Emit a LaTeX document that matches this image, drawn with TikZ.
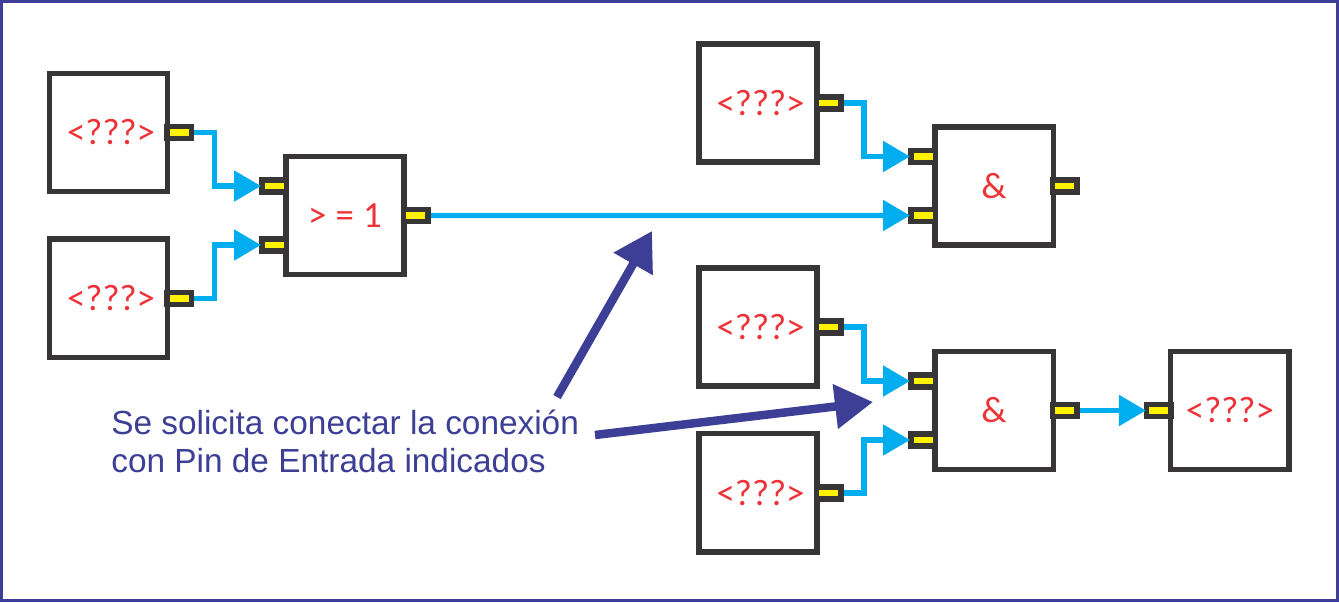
\documentclass[tikz,border=0pt]{standalone}
\usepackage{xcolor}
\usepackage{fontspec}
\setmainfont{Liberation Sans}
\newfontfamily\gatefont{Carlito}
\usepackage{tikz}
\usetikzlibrary{arrows.meta, positioning}
\definecolor{framenavy}{HTML}{3C3F95}
\definecolor{boxdark}{HTML}{373535}
\definecolor{pinyellow}{HTML}{FFF200}
\definecolor{wireblue}{HTML}{00AEEF}
\definecolor{labelred}{HTML}{EE3338}

\begin{document}
\begin{tikzpicture}[x=0.02cm, y=-0.02cm]
    % Styles
    \tikzstyle{block} = [rectangle, draw=boxdark, fill=white, line width=0.11cm, minimum size=2.37cm, inner sep=0pt, text=labelred, font=\gatefont\fontsize{21}{24}\selectfont]
    \tikzstyle{pinbox} = [rectangle, draw=boxdark, fill=pinyellow, line width=0.11cm, minimum width=0.49cm, minimum height=0.24cm, inner sep=0pt]
    \tikzstyle{pinout} = [pinbox, xshift=0.18cm]
    \tikzstyle{pinin} = [pinbox, xshift=-0.18cm]
    \tikzstyle{wire} = [draw=wireblue, line width=0.105cm, shorten >=-0.04cm, -{Triangle[length=0.54cm, width=0.6cm]}]
    \tikzstyle{pointer} = [draw=framenavy, line width=0.17cm, -{Triangle[length=0.76cm, width=0.86cm]}]

    \useasboundingbox (0,0) rectangle (1339,602);
    \draw [framenavy, line width=0.06cm] (1.5,1.5) rectangle (1337.5,600);

    % Nodes
    \node [block] (srca) at (108.5,132.5) {\kern3pt <???>};
    \node [block, below=0.84cm of srca] (srcb) {\kern3pt <???>};
    \node [block] (orgate) at (345,215.5) {>\kern.25em=\kern.25em1};
    \node [block] (topa) at (758,103) {\kern3pt <???>};
    \node [block] (andtop) at (994,186) {\&};
    \node [block] (midb) at (758,327) {\kern3pt <???>};
    \node [block, below=0.84cm of midb] (midc) {\kern3pt <???>};
    \node [block] (andbot) at (994,410.5) {\&};
    \node [block, right=2.24cm of andbot] (dest) {<???>};

    % Pins
    \node [pinout] (srcaout) at (srca.east) {};
    \node [pinout] (srcbout) at (srcb.east) {};
    \node [pinin, yshift=0.59cm] (orin1) at (orgate.west) {};
    \node [pinin, yshift=-0.59cm] (orin2) at (orgate.west) {};
    \node [pinout] (orout) at (orgate.east) {};
    \node [pinout] (topaout) at (topa.east) {};
    \node [pinin, yshift=0.59cm] (andtopin1) at (andtop.west) {};
    \node [pinin, yshift=-0.59cm] (andtopin2) at (andtop.west) {};
    \node [pinout] (andtopout) at (andtop.east) {};
    \node [pinout] (midbout) at (midb.east) {};
    \node [pinout] (midcout) at (midc.east) {};
    \node [pinin, yshift=0.59cm] (andbotin1) at (andbot.west) {};
    \node [pinin, yshift=-0.59cm] (andbotin2) at (andbot.west) {};
    \node [pinout] (andbotout) at (andbot.east) {};
    \node [pinin] (destin) at (dest.west) {};

    % Label
    \node [anchor=north west, align=left, inner sep=0pt, text=framenavy, font=\fontsize{19}{21.6}\selectfont] (note) at (111,410) {Se solicita conectar la conexión\\con Pin de Entrada indicados};
    \coordinate (noteup) at (557,397);
    \coordinate (uptip) at (652,231);
    \coordinate (noteright) at (595,435);
    \coordinate (righttip) at (873,402);

    % Paths
    \path [wire] (srcaout.east) -- ++(0.4cm,0) |- (orin1.west);
    \path [wire] (srcbout.east) -- ++(0.4cm,0) |- (orin2.west);
    \path [wire] (orout.east) -- (andtopin2.west);
    \path [wire] (topaout.east) -- ++(0.4cm,0) |- (andtopin1.west);
    \path [wire] (midbout.east) -- ++(0.4cm,0) |- (andbotin1.west);
    \path [wire] (midcout.east) -- ++(0.4cm,0) |- (andbotin2.west);
    \path [wire] (andbotout.east) -- (destin.west);
    \path [pointer] (noteup) -- (uptip);
    \path [pointer] (noteright) -- (righttip);
\end{tikzpicture}
\end{document}
